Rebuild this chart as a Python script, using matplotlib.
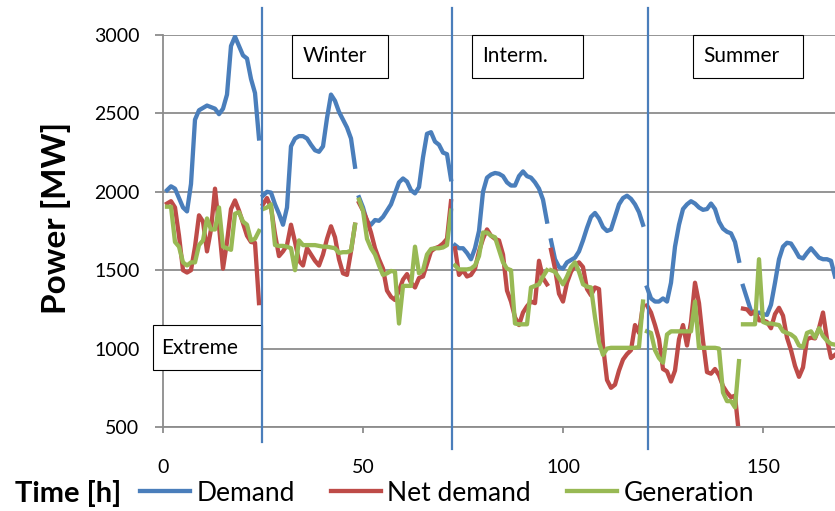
#Import
import numpy as np
import matplotlib
matplotlib.use("Agg")
import matplotlib.pyplot as plt
from matplotlib.patches import Rectangle

plt.rcParams['font.family'] = ['Lato', 'DejaVu Sans']

#Daten (stündlich, 7 Tage à 24 h)
hours = np.arange(1, 169)

demand = [
    2010, 2035, 2020, 1960, 1900, 1875, 2050, 2460, 2520, 2535, 2550, 2540, 2530, 2495, 2530, 2620, 2930, 2990, 2930, 2870, 2850, 2720, 2630, 2340,
    1975, 2000, 1995, 1920, 1860, 1790, 1900, 2290, 2340, 2355, 2355, 2340, 2300, 2265, 2255, 2290, 2470, 2620, 2580, 2510, 2460, 2410, 2340, 2160,
    1965, 1900, 1810, 1790, 1820, 1815, 1840, 1880, 1920, 1990, 2060, 2085, 2065, 2010, 1990, 2030, 2220, 2370, 2380, 2320, 2300, 2250, 2240, 2080,
    1660, 1640, 1640, 1610, 1570, 1640, 1750, 2000, 2090, 2110, 2120, 2115, 2100, 2060, 2040, 2040, 2100, 2130, 2100, 2090, 2060, 2020, 1950, 1810,
    1690, 1570, 1520, 1510, 1550, 1565, 1580, 1620, 1690, 1770, 1840, 1865, 1830, 1775, 1750, 1760, 1840, 1920, 1960, 1975, 1955, 1920, 1870, 1790,
    1390, 1320, 1300, 1300, 1320, 1300, 1420, 1650, 1790, 1890, 1920, 1940, 1925, 1900, 1885, 1890, 1925, 1890, 1810, 1765, 1745, 1735, 1680, 1560,
    1400, 1320, 1240, 1220, 1230, 1220, 1215, 1280, 1420, 1570, 1650, 1675, 1670, 1630, 1585, 1575, 1610, 1640, 1610, 1580, 1570, 1570, 1560, 1460,
]

net_demand = [
    1925, 1940, 1900, 1720, 1500, 1485, 1500, 1650, 1850, 1810, 1620, 1760, 2020, 1780, 1510, 1680, 1890, 1945, 1880, 1800, 1720, 1680, 1675, 1290,
    1920, 1960, 1900, 1730, 1590, 1620, 1660, 1790, 1680, 1560, 1530, 1640, 1600, 1560, 1530, 1600, 1700, 1780, 1710, 1570, 1480, 1470, 1620, 1790,
    1930, 1880, 1820, 1740, 1640, 1570, 1510, 1370, 1330, 1310, 1370, 1440, 1475, 1420, 1390, 1450, 1460, 1540, 1620, 1640, 1650, 1670, 1700, 1940,
    1640, 1470, 1500, 1460, 1470, 1510, 1620, 1700, 1760, 1720, 1700, 1690, 1600, 1370, 1300, 1200, 1150, 1230, 1270, 1300, 1290, 1560, 1450, 1410,
    1630, 1510, 1350, 1300, 1420, 1490, 1530, 1550, 1520, 1380, 1340, 1390, 1380, 1020, 800, 750, 770, 860, 930, 965, 990, 1150, 1100, 1280,
    1275, 1230, 1150, 1060, 870, 855, 790, 860, 1060, 1150, 1020, 1170, 1420, 1290, 1050, 850, 840, 870, 830, 760, 720, 690, 700, 450,
    1255, 1250, 1220, 1240, 1180, 1180, 1170, 1130, 1220, 1260, 1210, 1070, 990, 890, 820, 880, 1060, 1070, 1065, 1130, 1230, 1060, 940, 960,
]

generation = [
    1905, 1905, 1680, 1650, 1550, 1530, 1550, 1550, 1660, 1690, 1830, 1760, 1760, 1900, 1650, 1640, 1630, 1860, 1870, 1810, 1790, 1690, 1700, 1750,
    1890, 1900, 1920, 1660, 1655, 1655, 1650, 1640, 1500, 1690, 1660, 1660, 1660, 1660, 1655, 1650, 1650, 1645, 1640, 1610, 1615, 1615, 1625, 1790,
    1950, 1880, 1700, 1640, 1600, 1530, 1470, 1480, 1495, 1490, 1160, 1400, 1400, 1400, 1650, 1480, 1500, 1600, 1635, 1640, 1640, 1645, 1660, 1880,
    1530, 1505, 1505, 1505, 1510, 1530, 1590, 1740, 1740, 1720, 1710, 1630, 1550, 1510, 1500, 1160, 1155, 1155, 1155, 1390, 1400, 1410, 1460, 1500,
    1500, 1490, 1450, 1410, 1460, 1520, 1550, 1490, 1410, 1395, 1390, 1200, 1040, 960, 1000, 1005, 1005, 1005, 1005, 1005, 1005, 1005, 1010, 1300,
    1110, 1100, 990, 940, 910, 1090, 1110, 1110, 1110, 1110, 1110, 1110, 1300, 1005, 1005, 1005, 1005, 1005, 1000, 720, 665, 665, 625, 920,
    1155, 1155, 1155, 1155, 1570, 1170, 1160, 1160, 1155, 1150, 1110, 1100, 1090, 1070, 1020, 1010, 1100, 1110, 1070, 1130, 1080, 1050, 1030, 1025,
]

season_lines = [24.75, 72.25, 121.25]
season_names = ["Winter", "Interm.", "Summer"]
season_box_x = [32.25, 77.25, 132.5]
season_box_w = [24.0, 27.75, 27.5]

series = [("Demand", demand, "#4a7ebb"),
          ("Net demand", net_demand, "#be4b48"),
          ("Generation", generation, "#98b954")]

#Diagramm
fig = plt.figure(figsize=(8.35, 5.11), dpi=100)
ax = fig.add_axes([163/835, 84/511, 672/835, 392/511])

for name, values, col in series:
    values = np.array(values, dtype=float)
    for d in range(7):
        sl = slice(24*d, 24*d + 24)
        ax.plot(hours[sl], values[sl], color=col, lw=3.1,
                solid_joinstyle='round', label=name if d == 0 else None)

ax.set_xlim(0, 168)
ax.set_ylim(500, 3000)
ax.set_xticks([0, 50, 100, 150])
ax.set_yticks(np.arange(500, 3001, 500))
ax.yaxis.grid(True, color='#8c8c8c', lw=1.3)
ax.set_axisbelow(True)
for s in ['top', 'right']:
    ax.spines[s].set_visible(False)
for s in ['left', 'bottom']:
    ax.spines[s].set_color('#8c8c8c')
    ax.spines[s].set_linewidth(1.3)
ax.tick_params(axis='y', length=6, width=1.3, color='#8c8c8c', pad=11, labelsize=14)
ax.tick_params(axis='x', length=4, width=1.3, color='#8c8c8c', pad=19, labelsize=14)

#Trennlinien der Jahreszeiten
trans = ax.get_xaxis_transform()
for i, x in enumerate(season_lines):
    y_low = -0.038 if i == 0 else -0.056
    ax.plot([x, x], [y_low, 1.069], color='#4a7ebb', lw=1.6,
            transform=trans, clip_on=False, zorder=5)

#Beschriftungsboxen
for name, bx, bw in zip(season_names, season_box_x, season_box_w):
    ax.add_patch(Rectangle((bx, 2726), bw, 274, fc='white', ec='black',
                           lw=0.8, clip_on=False, zorder=4))
    ax.text(bx + 2.6, 2863, name, fontsize=15, va='center', ha='left', zorder=6)
ax.add_patch(Rectangle((-2.5, 863), 27.25, 287, fc='white', ec='black',
                       lw=0.8, clip_on=False, zorder=4))
ax.text(-0.5, 1006, "Extreme", fontsize=15, va='center', ha='left', zorder=6)

#Achsentitel und Legende
fig.text(56/835, 1 - 218/511, "Power [MW]", rotation=90, fontsize=24,
         fontweight='bold', ha='center', va='center')
fig.text(15/835, 1 - 493/511, "Time [h]", fontsize=21, fontweight='bold',
         ha='left', va='center')
fig.legend(loc='center left', bbox_to_anchor=(140/835, 1 - 493/511), ncol=3,
           frameon=False, fontsize=19, handlelength=1.9, handletextpad=0.25,
           columnspacing=1.35, borderaxespad=0, borderpad=0)

plt.savefig("out.png", dpi=100)
